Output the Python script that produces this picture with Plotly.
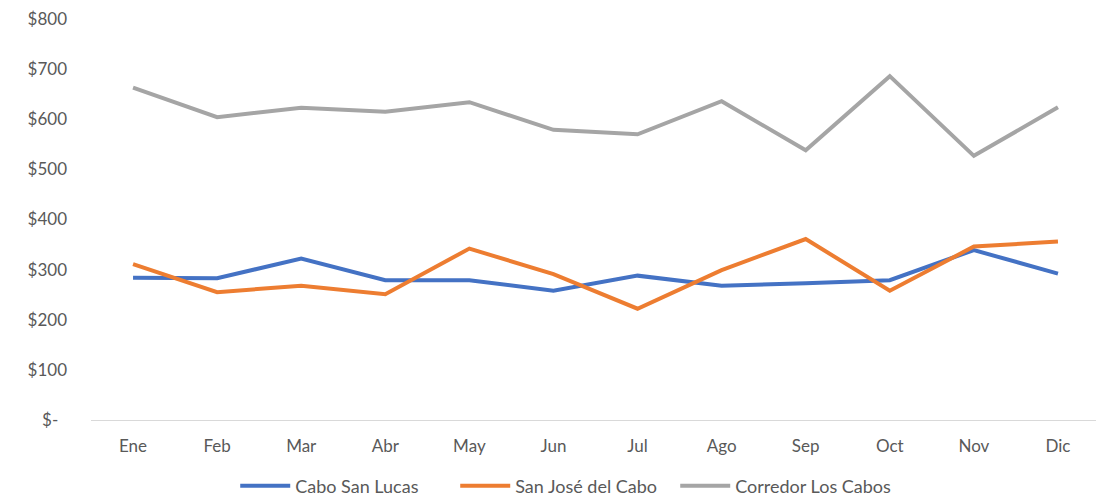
import plotly.graph_objects as go

months = ["Ene", "Feb", "Mar", "Abr", "May", "Jun", "Jul", "Ago", "Sep", "Oct", "Nov", "Dic"]
cabo_san_lucas = [284, 283, 322, 279, 279, 258, 288, 268, 273, 279, 339, 292]
san_jose_del_cabo = [311, 255, 268, 251, 342, 291, 222, 299, 361, 258, 346, 356]
corredor_los_cabos = [663, 604, 623, 615, 634, 579, 570, 636, 538, 686, 527, 624]

y_ticks = [0, 100, 200, 300, 400, 500, 600, 700, 800]
y_labels = ["$-\u00a0\u00a0", "$100", "$200", "$300", "$400", "$500", "$600", "$700", "$800"]

series = [
    ("Cabo San Lucas", cabo_san_lucas, "#4472C4"),
    ("San José del Cabo", san_jose_del_cabo, "#ED7D31"),
    ("Corredor Los Cabos", corredor_los_cabos, "#A5A5A5"),
]

fig = go.Figure()
for name, vals, color in series:
    fig.add_trace(go.Scatter(x=months, y=vals, name=name, mode="lines",
                             line=dict(color=color, width=4)))

font = "Lato, 'Open Sans', sans-serif"
fig.update_layout(
    width=1096, height=491,
    margin=dict(l=83, r=4, t=11, b=79, autoexpand=False),
    paper_bgcolor="white", plot_bgcolor="white",
    font=dict(family=font, size=17, color="#595959"),
    showlegend=True,
    legend=dict(orientation="h", x=0.47, xanchor="center", y=-0.165, yanchor="middle",
                font=dict(size=18, color="#595959"), itemwidth=50, tracegroupgap=0,
                entrywidth=155),
    xaxis=dict(type="category", range=[-0.5, 11.5], showgrid=False,
               showline=True, linecolor="#D9D9D9", linewidth=1, automargin=False,
               ticks="", ticklabelstandoff=11, zeroline=False),
    yaxis=dict(range=[0, 800], tickvals=y_ticks, ticktext=y_labels, showgrid=False,
               showline=False, zeroline=False, ticks="", ticklabelstandoff=23,
               automargin=False, ticklabeloverflow="allow"),
)

fig.write_html("out.html")
